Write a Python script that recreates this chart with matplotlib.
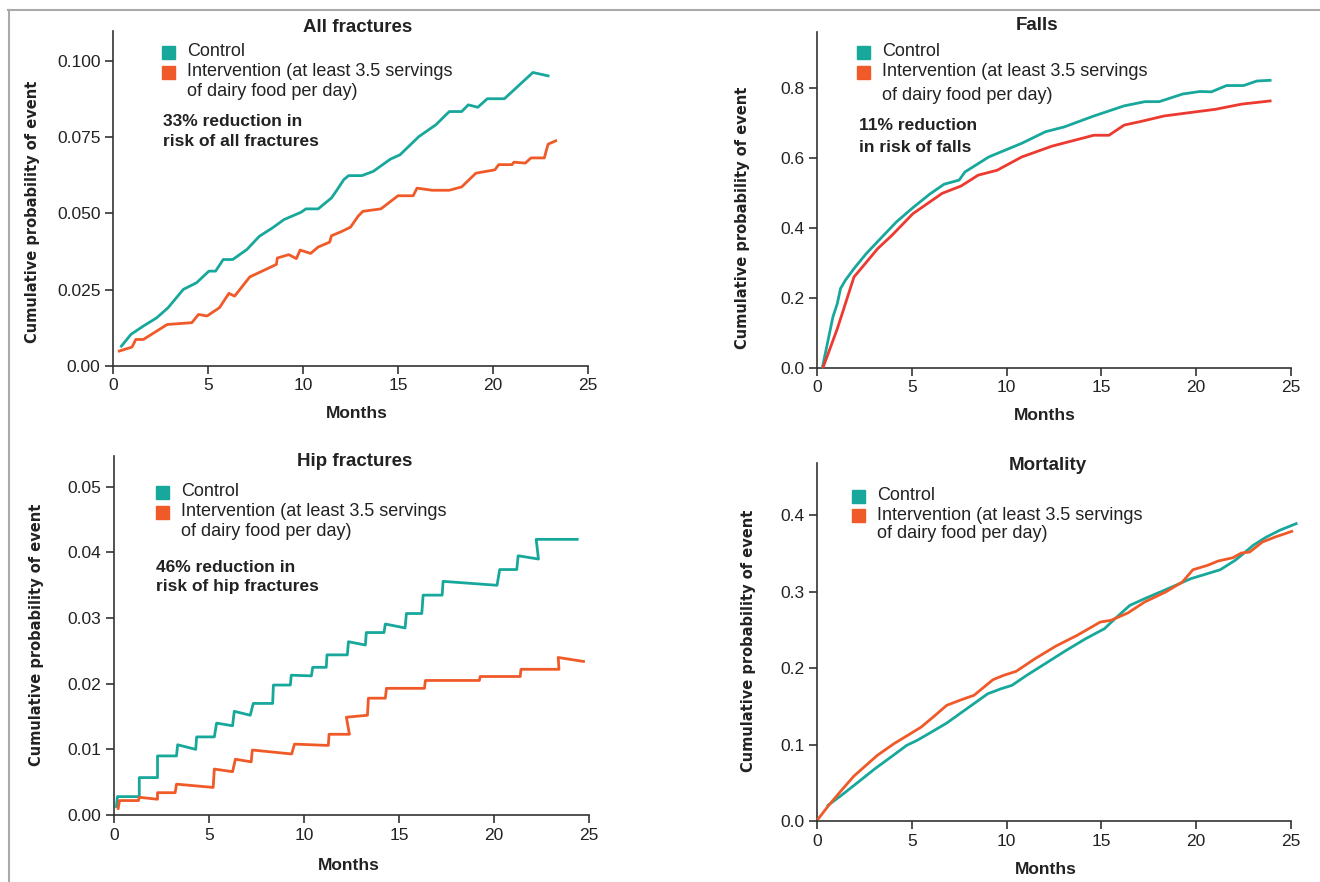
import matplotlib
matplotlib.use('Agg')
import matplotlib.pyplot as plt
from matplotlib.patches import Rectangle

TEAL = '#17a89b'
ORANGE = '#f05a28'
RED = '#ec3a30'
INK = '#222222'
FONT = ['Liberation Sans', 'DejaVu Sans']

# ---- All fractures ----
all_ctrl_m = [0.44, 0.95, 1.6, 2.3, 2.9, 3.7, 4.4, 5.05, 5.4, 5.8, 6.3, 7.05, 7.7, 8.4,
              9.0, 9.9, 10.15, 10.8, 11.5, 11.8, 12.15, 12.4, 13.1, 13.7, 14.6, 15.1,
              16.1, 17.0, 17.7, 18.35, 18.7, 19.2, 19.7, 20.6, 22.1, 22.9]
all_ctrl_v = [0.0065, 0.0104, 0.0131, 0.0158, 0.0191, 0.0251, 0.0273, 0.0311, 0.0311,
              0.0349, 0.0349, 0.0382, 0.0425, 0.0453, 0.0480, 0.0504, 0.0515, 0.0515,
              0.0551, 0.0578, 0.0611, 0.0624, 0.0624, 0.0638, 0.0678, 0.0692, 0.0752,
              0.0791, 0.0834, 0.0834, 0.0856, 0.0848, 0.0876, 0.0876, 0.0962, 0.0951]
all_int_m = [0.33, 1.0, 1.2, 1.6, 2.85, 4.15, 4.5, 4.95, 5.6, 6.1, 6.4, 7.2, 8.6, 8.65,
             9.25, 9.65, 9.85, 10.4, 10.8, 11.4, 11.5, 12.0, 12.5, 12.9, 13.15, 14.1,
             15.0, 15.8, 16.0, 16.8, 17.7, 18.35, 19.1, 20.1, 20.3, 21.0, 21.1, 21.7,
             22.0, 22.7, 22.9, 23.3]
all_int_v = [0.0049, 0.0062, 0.0087, 0.0087, 0.0136, 0.0142, 0.0169, 0.0164, 0.0191,
             0.0238, 0.0229, 0.0292, 0.0333, 0.0354, 0.0365, 0.0352, 0.0380, 0.0369,
             0.0390, 0.0406, 0.0427, 0.0440, 0.0455, 0.0491, 0.0507, 0.0515, 0.0558,
             0.0558, 0.0583, 0.0576, 0.0576, 0.0587, 0.0632, 0.0643, 0.0660, 0.0660,
             0.0668, 0.0665, 0.0682, 0.0682, 0.0727, 0.0738]

# ---- Falls ----
falls_ctrl_m = [0.29, 0.84, 1.07, 1.24, 1.5, 1.95, 2.6, 3.3, 4.2, 5.1, 5.95, 6.7, 7.5,
                7.8, 9.06, 10.8, 12.05, 13.05, 14.6, 16.2, 17.3, 18.05, 19.3, 20.2,
                20.8, 21.6, 22.5, 23.2, 23.9]
falls_ctrl_v = [0.003, 0.146, 0.184, 0.227, 0.251, 0.284, 0.327, 0.367, 0.418, 0.460,
                0.497, 0.525, 0.537, 0.560, 0.603, 0.642, 0.675, 0.689, 0.720, 0.749,
                0.761, 0.761, 0.783, 0.790, 0.789, 0.807, 0.807, 0.820, 0.822]
falls_int_m = [0.33, 1.07, 1.95, 2.4, 3.2, 3.95, 5.06, 6.6, 7.6, 8.5, 9.5, 10.8, 12.4,
               14.6, 15.4, 16.2, 17.05, 18.3, 19.7, 21.0, 22.4, 23.9]
falls_int_v = [0.003, 0.112, 0.260, 0.289, 0.341, 0.379, 0.441, 0.499, 0.520, 0.551,
               0.565, 0.603, 0.634, 0.665, 0.665, 0.694, 0.704, 0.720, 0.730, 0.739,
               0.754, 0.763]

# ---- Hip fractures ----
hip_ctrl_m = [0.13, 0.18, 1.33, 1.33, 2.29, 2.29, 3.29, 3.35, 4.3, 4.35, 5.28, 5.4,
              6.24, 6.33, 7.17, 7.33, 8.35, 8.39, 9.28, 9.33, 10.39, 10.46, 11.17, 11.21,
              12.28, 12.34, 13.23, 13.28, 14.21, 14.28, 15.32, 15.39, 16.2, 16.27, 17.27,
              17.32, 20.16, 20.3, 21.2, 21.27, 22.34, 22.22, 24.38]
hip_ctrl_v = [0.0013, 0.0028, 0.0028, 0.0057, 0.0057, 0.0090, 0.0090, 0.0107, 0.0100,
              0.0119, 0.0119, 0.0140, 0.0136, 0.0158, 0.0152, 0.0170, 0.0170, 0.0198,
              0.0198, 0.0213, 0.0212, 0.0225, 0.0225, 0.0244, 0.0244, 0.0264, 0.0259,
              0.0278, 0.0278, 0.0291, 0.0285, 0.0307, 0.0307, 0.0335, 0.0335, 0.0356,
              0.0350, 0.0374, 0.0374, 0.0395, 0.0390, 0.0420, 0.0420]
hip_int_m = [0.22, 0.29, 1.29, 1.33, 2.29, 2.29, 3.22, 3.29, 5.22, 5.28, 6.24, 6.39,
             7.22, 7.28, 9.35, 9.5, 11.28, 11.32, 12.39, 12.23, 13.34, 13.39, 14.28,
             14.34, 16.34, 16.39, 19.23, 19.27, 21.38, 21.42, 23.42, 23.38, 24.71]
hip_int_v = [0.0010, 0.0022, 0.0022, 0.0027, 0.0024, 0.0034, 0.0034, 0.0047, 0.0042,
             0.0070, 0.0066, 0.0085, 0.0081, 0.0099, 0.0093, 0.0108, 0.0106, 0.0123,
             0.0123, 0.0149, 0.0152, 0.0178, 0.0178, 0.0193, 0.0193, 0.0205, 0.0205,
             0.0211, 0.0211, 0.0222, 0.0222, 0.0240, 0.0234]

# ---- Mortality ----
mort_ctrl_m = [0.58, 1.29, 2.18, 3.06, 3.95, 4.73, 5.28, 5.95, 6.84, 7.73, 8.4, 9.01,
               9.72, 10.28, 11.06, 12.17, 13.06, 14.17, 15.16, 15.72, 16.5, 17.28,
               18.39, 19.72, 21.27, 22.05, 22.49, 23.0, 23.7, 24.4, 25.27]
mort_ctrl_v = [0.0205, 0.0336, 0.051, 0.0684, 0.0845, 0.0989, 0.1054, 0.115, 0.128,
               0.1438, 0.1556, 0.1664, 0.173, 0.1773, 0.1904, 0.2078, 0.2218, 0.2383,
               0.2514, 0.2645, 0.2819, 0.2906, 0.3024, 0.3168, 0.3285, 0.3407, 0.3495,
               0.3603, 0.3712, 0.380, 0.3887]
mort_int_m = [0.07, 0.62, 1.29, 1.95, 3.18, 4.06, 4.84, 5.5, 6.17, 6.84, 7.62, 8.28,
              9.28, 9.84, 10.5, 11.5, 12.61, 13.72, 14.94, 15.5, 16.39, 17.28, 18.39,
              19.27, 19.83, 20.6, 21.16, 21.94, 22.38, 22.82, 23.49, 24.16, 25.04]
mort_int_v = [0.003, 0.0205, 0.0401, 0.0588, 0.0858, 0.1011, 0.1128, 0.1229, 0.1368,
              0.1512, 0.1586, 0.1643, 0.1847, 0.1904, 0.1956, 0.2122, 0.2288, 0.2427,
              0.2601, 0.2623, 0.2719, 0.2863, 0.2994, 0.3124, 0.3285, 0.3342, 0.3399,
              0.3442, 0.3503, 0.3516, 0.3647, 0.3712, 0.3786]

x_ticks = [0, 5, 10, 15, 20, 25]
legend_labels = ['Control', 'Intervention (at least 3.5 servings', 'of dairy food per day)']

W, H = 1320, 882
fig = plt.figure(figsize=(W / 100, H / 100), dpi=100)


def fx(x):
    return x / W


def fy(y):
    return 1 - y / H


def ptext(x, y, s, **kw):
    kw.setdefault('family', FONT)
    kw.setdefault('color', INK)
    fig.text(fx(x), fy(y), s, **kw)


# frame lines of the figure
fig.add_artist(plt.Line2D([fx(8), 1], [fy(10), fy(10)], color='#aaaaaa', lw=1.5))
fig.add_artist(plt.Line2D([fx(8.5), fx(8.5)], [fy(10), 0], color='#aaaaaa', lw=1.5))


def panel(box, ylim, yticks, ylabels, ctrl, interv, int_color, title, tpos, xlpos,
          ylpos, leg, note=None):
    x0, y0, x1, y1 = box
    ax = fig.add_axes([fx(x0), fy(y1), (x1 - x0) / W, (y1 - y0) / H])
    ax.plot(*ctrl, color=TEAL, lw=2.0, clip_on=False, zorder=3)
    ax.plot(*interv, color=int_color, lw=2.0, clip_on=False, zorder=3)
    ax.set_xlim(0, 25)
    ax.set_ylim(*ylim)
    ax.set_xticks(x_ticks)
    ax.set_yticks(yticks)
    ax.set_yticklabels(ylabels)
    for s in ('top', 'right'):
        ax.spines[s].set_visible(False)
    for s in ('left', 'bottom'):
        ax.spines[s].set_color('#333333')
        ax.spines[s].set_linewidth(1.2)
    ax.tick_params(direction='out', length=6, width=1.2, color='#333333',
                   labelsize=12.5, labelcolor=INK, pad=3)
    for lab in ax.get_xticklabels() + ax.get_yticklabels():
        lab.set_family(FONT)
    ax.patch.set_visible(False)

    ptext(tpos[0], tpos[1], title, ha='center', va='center', fontsize=13.5,
          fontweight='bold')
    ptext(xlpos[0], xlpos[1], 'Months', ha='center', va='center', fontsize=12.5,
          fontweight='bold')
    ptext(ylpos[0], ylpos[1], 'Cumulative probability of event', ha='center',
          va='center', rotation=90, fontsize=10.5, fontweight='bold',
          family=['DejaVu Sans'])

    lx, tx, rows = leg
    for color, ry in ((TEAL, rows[0]), (ORANGE, rows[1])):
        fig.add_artist(Rectangle((fx(lx), fy(ry + 7)), 13 / W, 13 / H,
                                 color=color, transform=fig.transFigure))
    for s, ry in zip(legend_labels, rows):
        ptext(tx, ry, s, ha='left', va='center', fontsize=13)

    if note:
        nx, nys, lines = note
        for s, ny in zip(lines, nys):
            ptext(nx, ny, s, ha='left', va='center', fontsize=12.5,
                  fontweight='bold')
    return ax


panel((113, 31, 588, 366), (0, 0.1098), [0, 0.025, 0.05, 0.075, 0.1],
      ['0.00', '0.025', '0.050', '0.075', '0.100'],
      (all_ctrl_m, all_ctrl_v), (all_int_m, all_int_v), ORANGE,
      'All fractures', (358, 27), (357, 413), (33, 212),
      (162, 187, (52, 72, 91)),
      (163, (122, 142), ['33% reduction in', 'risk of all fractures']))

panel((817, 32, 1291, 368), (0, 0.96), [0, 0.2, 0.4, 0.6, 0.8],
      ['0.0', '0.2', '0.4', '0.6', '0.8'],
      (falls_ctrl_m, falls_ctrl_v), (falls_int_m, falls_int_v), RED,
      'Falls', (1037, 25), (1045, 416), (743, 218),
      (857, 882, (52, 72, 95)),
      (859, (125, 148), ['11% reduction', 'in risk of falls']))

panel((114, 456, 589, 815), (0, 0.0547), [0, 0.01, 0.02, 0.03, 0.04, 0.05],
      ['0.00', '0.01', '0.02', '0.03', '0.04', '0.05'],
      (hip_ctrl_m, hip_ctrl_v), (hip_int_m, hip_int_v), ORANGE,
      'Hip fractures', (355, 462), (349, 865), (37, 635),
      (156, 181, (492, 512, 531)),
      (156, (567, 586), ['46% reduction in', 'risk of hip fractures']))

panel((817, 463, 1291, 821), (0, 0.468), [0, 0.1, 0.2, 0.3, 0.4],
      ['0.0', '0.1', '0.2', '0.3', '0.4'],
      (mort_ctrl_m, mort_ctrl_v), (mort_int_m, mort_int_v), ORANGE,
      'Mortality', (1048, 465), (1046, 869), (748, 641),
      (852, 877, (496, 515, 534)))

fig.savefig('out.png', dpi=100, facecolor='white')
